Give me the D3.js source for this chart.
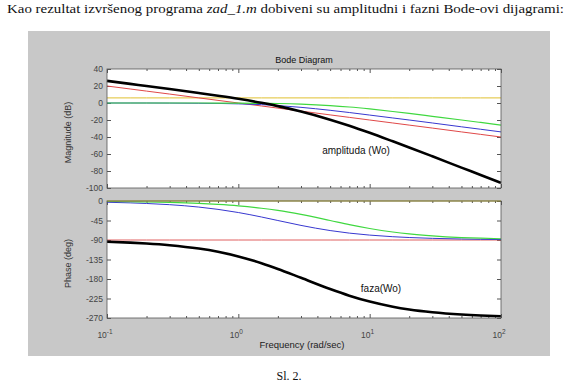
<!DOCTYPE html>
<html>
<head>
<meta charset="utf-8">
<script src="https://cdn.jsdelivr.net/npm/d3@7"></script>
<style>
  body { margin: 0; background: #fff; }
  svg text { font-family: "Liberation Sans", Arial, sans-serif; }
  svg text.serif { font-family: "Liberation Serif", "Times New Roman", serif; }
  .tick text { fill: #444; font-size: 8.5px; }
  .tick line { stroke: #555; }
  .axis path { display: none; }
</style>
</head>
<body>
<div id="chart-area"></div>
<script>
// values
var freq = [0.1, 0.15, 0.2, 0.3, 0.5, 0.7, 1, 1.5, 2, 3, 5, 7, 10, 15, 20, 30, 50, 70, 100];

// magnitude (dB)
var magWo  = [26.0, 22.5, 19.9, 16.4, 11.7, 8.5, 4.9, 0.2, -3.7, -10.0, -19.6, -26.8, -35.1, -45.1, -52.3, -62.7, -76.0, -84.7, -94.0];
var magInt = [20.0, 16.5, 14.0, 10.5, 6.0, 3.1, 0, -3.5, -6.0, -9.5, -14.0, -16.9, -20.0, -23.5, -26.0, -29.5, -34.0, -36.9, -40.0];
var magK   = [6.0, 6.0, 6.0, 6.0, 6.0, 6.0, 6.0, 6.0, 6.0, 6.0, 6.0, 6.0, 6.0, 6.0, 6.0, 6.0, 6.0, 6.0, 6.0];
var magP1  = [0, 0, 0, -0.1, -0.3, -0.5, -1.0, -1.9, -3.0, -5.1, -8.6, -11.2, -14.2, -17.6, -20.0, -23.5, -28.0, -30.9, -34.0];
var magP2  = [0, 0, 0, 0, 0, -0.1, -0.2, -0.4, -0.6, -1.3, -3.0, -4.7, -7.0, -10.0, -12.3, -15.7, -20.0, -22.9, -26.0];

// phase (deg)
var phWo  = [-94.0, -96.0, -98.0, -102.0, -109.8, -117.3, -127.9, -143.6, -156.8, -177.3, -203.2, -218.5, -232.1, -244.0, -250.3, -256.7, -262.0, -264.3, -266.0];
var phInt = [-90, -90, -90, -90, -90, -90, -90, -90, -90, -90, -90, -90, -90, -90, -90, -90, -90, -90, -90];
var phK   = [0, 0, 0, 0, 0, 0, 0, 0, 0, 0, 0, 0, 0, 0, 0, 0, 0, 0, 0];
var phP1  = [-2.9, -4.3, -5.7, -8.5, -14.0, -19.3, -26.6, -36.9, -45.0, -56.3, -68.2, -74.1, -78.7, -82.4, -84.3, -86.2, -87.7, -88.4, -88.9];
var phP2  = [-1.2, -1.7, -2.3, -3.4, -5.7, -8.0, -11.3, -16.7, -21.8, -31.0, -45.0, -54.5, -63.4, -71.6, -76.0, -80.5, -84.3, -85.9, -87.1];

var magTicks = [40, 20, 0, -20, -40, -60, -80, -100];
var phTicks = [0, -45, -90, -135, -180, -225, -270];
var decades = [0.1, 1, 10, 100];
var decadeExp = ["-1", "0", "1", "2"];

var W = 567, H = 389;
var left = 107, right = 501;
var magTop = 69, magBot = 188, phTop = 201, phBot = 318;

var svg = d3.select("#chart-area").append("svg")
    .attr("width", W)
    .attr("height", H);

// caption above
var cap = svg.append("text")
    .attr("class", "serif")
    .attr("x", 7)
    .attr("y", 13)
    .attr("font-size", "13.5px")
    .attr("textLength", 557)
    .attr("lengthAdjust", "spacingAndGlyphs")
    .attr("fill", "#111");
cap.append("tspan").text("Kao rezultat izvršenog programa ");
cap.append("tspan").attr("font-style", "italic").text("zad_1.m");
cap.append("tspan").text(" dobiveni su amplitudni i fazni Bode-ovi dijagrami:");

// figure background
svg.append("rect")
    .attr("x", 28).attr("y", 31)
    .attr("width", 522).attr("height", 325)
    .attr("fill", "#c8c8c8");

svg.append("text")
    .attr("class", "serif")
    .attr("x", 289).attr("y", 380)
    .attr("text-anchor", "middle")
    .attr("font-size", "12px")
    .attr("fill", "#111")
    .text("Sl. 2.");

var x = d3.scaleLog().domain([0.1, 100]).range([left, right]);
var yMag = d3.scaleLinear().domain([-100, 40]).range([magBot, magTop]);
var yPh = d3.scaleLinear().domain([-270, 0]).range([phBot, phTop]);

// minor tick positions 2..9 per decade
var minor = [];
decades.slice(0, 3).forEach(function(d) {
    for (var k = 2; k <= 9; k++) minor.push(d * k);
});

function drawPanel(y, top, bot, ticks, series, yLabel) {
    var g = svg.append("g");
    g.append("rect")
        .attr("x", left).attr("y", top)
        .attr("width", right - left).attr("height", bot - top)
        .attr("fill", "#fff");

    // y axes, ticks inside, plain hyphen minus like matlab
    g.append("g").attr("class", "axis")
        .attr("transform", "translate(" + left + ",0)")
        .call(d3.axisLeft(y).tickValues(ticks).tickSize(-4).tickSizeOuter(0).tickPadding(4)
            .tickFormat(function(d) { return String(d); }));
    g.append("g").attr("class", "axis")
        .attr("transform", "translate(" + right + ",0)")
        .call(d3.axisRight(y).tickValues(ticks).tickSize(-4).tickSizeOuter(0).tickFormat(""));

    // x ticks top and bottom
    [[bot, -4, -2], [top, 4, 2]].forEach(function(p) {
        g.append("g").attr("class", "axis")
            .attr("transform", "translate(0," + p[0] + ")")
            .call(d3.axisBottom(x).tickValues(decades).tickSize(p[1]).tickSizeOuter(0).tickFormat(""));
        g.append("g").attr("class", "axis")
            .attr("transform", "translate(0," + p[0] + ")")
            .call(d3.axisBottom(x).tickValues(minor).tickSize(p[2]).tickSizeOuter(0).tickFormat(""));
    });

    var line = d3.line()
        .x(function(d) { return x(d[0]); })
        .y(function(d) { return y(d[1]); })
        .curve(d3.curveMonotoneX);

    series.forEach(function(s) {
        g.append("path")
            .attr("fill", "none")
            .attr("stroke", s.color)
            .attr("stroke-width", s.width)
            .attr("d", line(freq.map(function(f, i) { return [f, s.values[i]]; })));
    });

    g.append("rect")
        .attr("x", left).attr("y", top)
        .attr("width", right - left).attr("height", bot - top)
        .attr("fill", "none")
        .attr("stroke", "#555")
        .attr("stroke-width", 0.8);

    g.append("text")
        .attr("transform", "translate(71," + ((top + bot) / 2 + 4) + ") rotate(-90)")
        .attr("text-anchor", "middle")
        .attr("font-size", "9px")
        .attr("fill", "#333")
        .text(yLabel);
    return g;
}

drawPanel(yMag, magTop, magBot, magTicks, [
    { values: magK,   color: "#e0c030", width: 1 },
    { values: magInt, color: "#e04848", width: 1 },
    { values: magP1,  color: "#3838d0", width: 1 },
    { values: magP2,  color: "#40d840", width: 1.2 },
    { values: magWo,  color: "#000",    width: 2.6 }
], "Magnitude (dB)");

drawPanel(yPh, phTop, phBot, phTicks, [
    { values: phInt, color: "#e06060", width: 1 },
    { values: phP1,  color: "#3838d0", width: 1 },
    { values: phP2,  color: "#40d840", width: 1.2 },
    { values: phK,   color: "#c8b820", width: 1.2 },
    { values: phWo,  color: "#000",    width: 2.6 }
], "Phase (deg)");

// decade labels 10^n
decades.forEach(function(d, i) {
    var t = svg.append("text")
        .attr("x", x(d) - 2)
        .attr("y", 338)
        .attr("text-anchor", "middle")
        .attr("font-size", "8.5px")
        .attr("fill", "#444")
        .text("10");
    t.append("tspan")
        .attr("dy", -4)
        .attr("font-size", "6.5px")
        .text(decadeExp[i]);
});

svg.append("text")
    .attr("x", 302).attr("y", 348)
    .attr("text-anchor", "middle")
    .attr("font-size", "9.5px")
    .attr("fill", "#222")
    .text("Frequency (rad/sec)");

svg.append("text")
    .attr("x", 304).attr("y", 63)
    .attr("text-anchor", "middle")
    .attr("font-size", "9px")
    .attr("fill", "#111")
    .text("Bode Diagram");

// annotations
svg.append("text")
    .attr("x", 356).attr("y", 154)
    .attr("text-anchor", "middle")
    .attr("font-size", "10px")
    .attr("fill", "#111")
    .text("amplituda (Wo)");

svg.append("text")
    .attr("x", 381).attr("y", 292)
    .attr("text-anchor", "middle")
    .attr("font-size", "10px")
    .attr("fill", "#111")
    .text("faza(Wo)");
</script>
</body>
</html>
